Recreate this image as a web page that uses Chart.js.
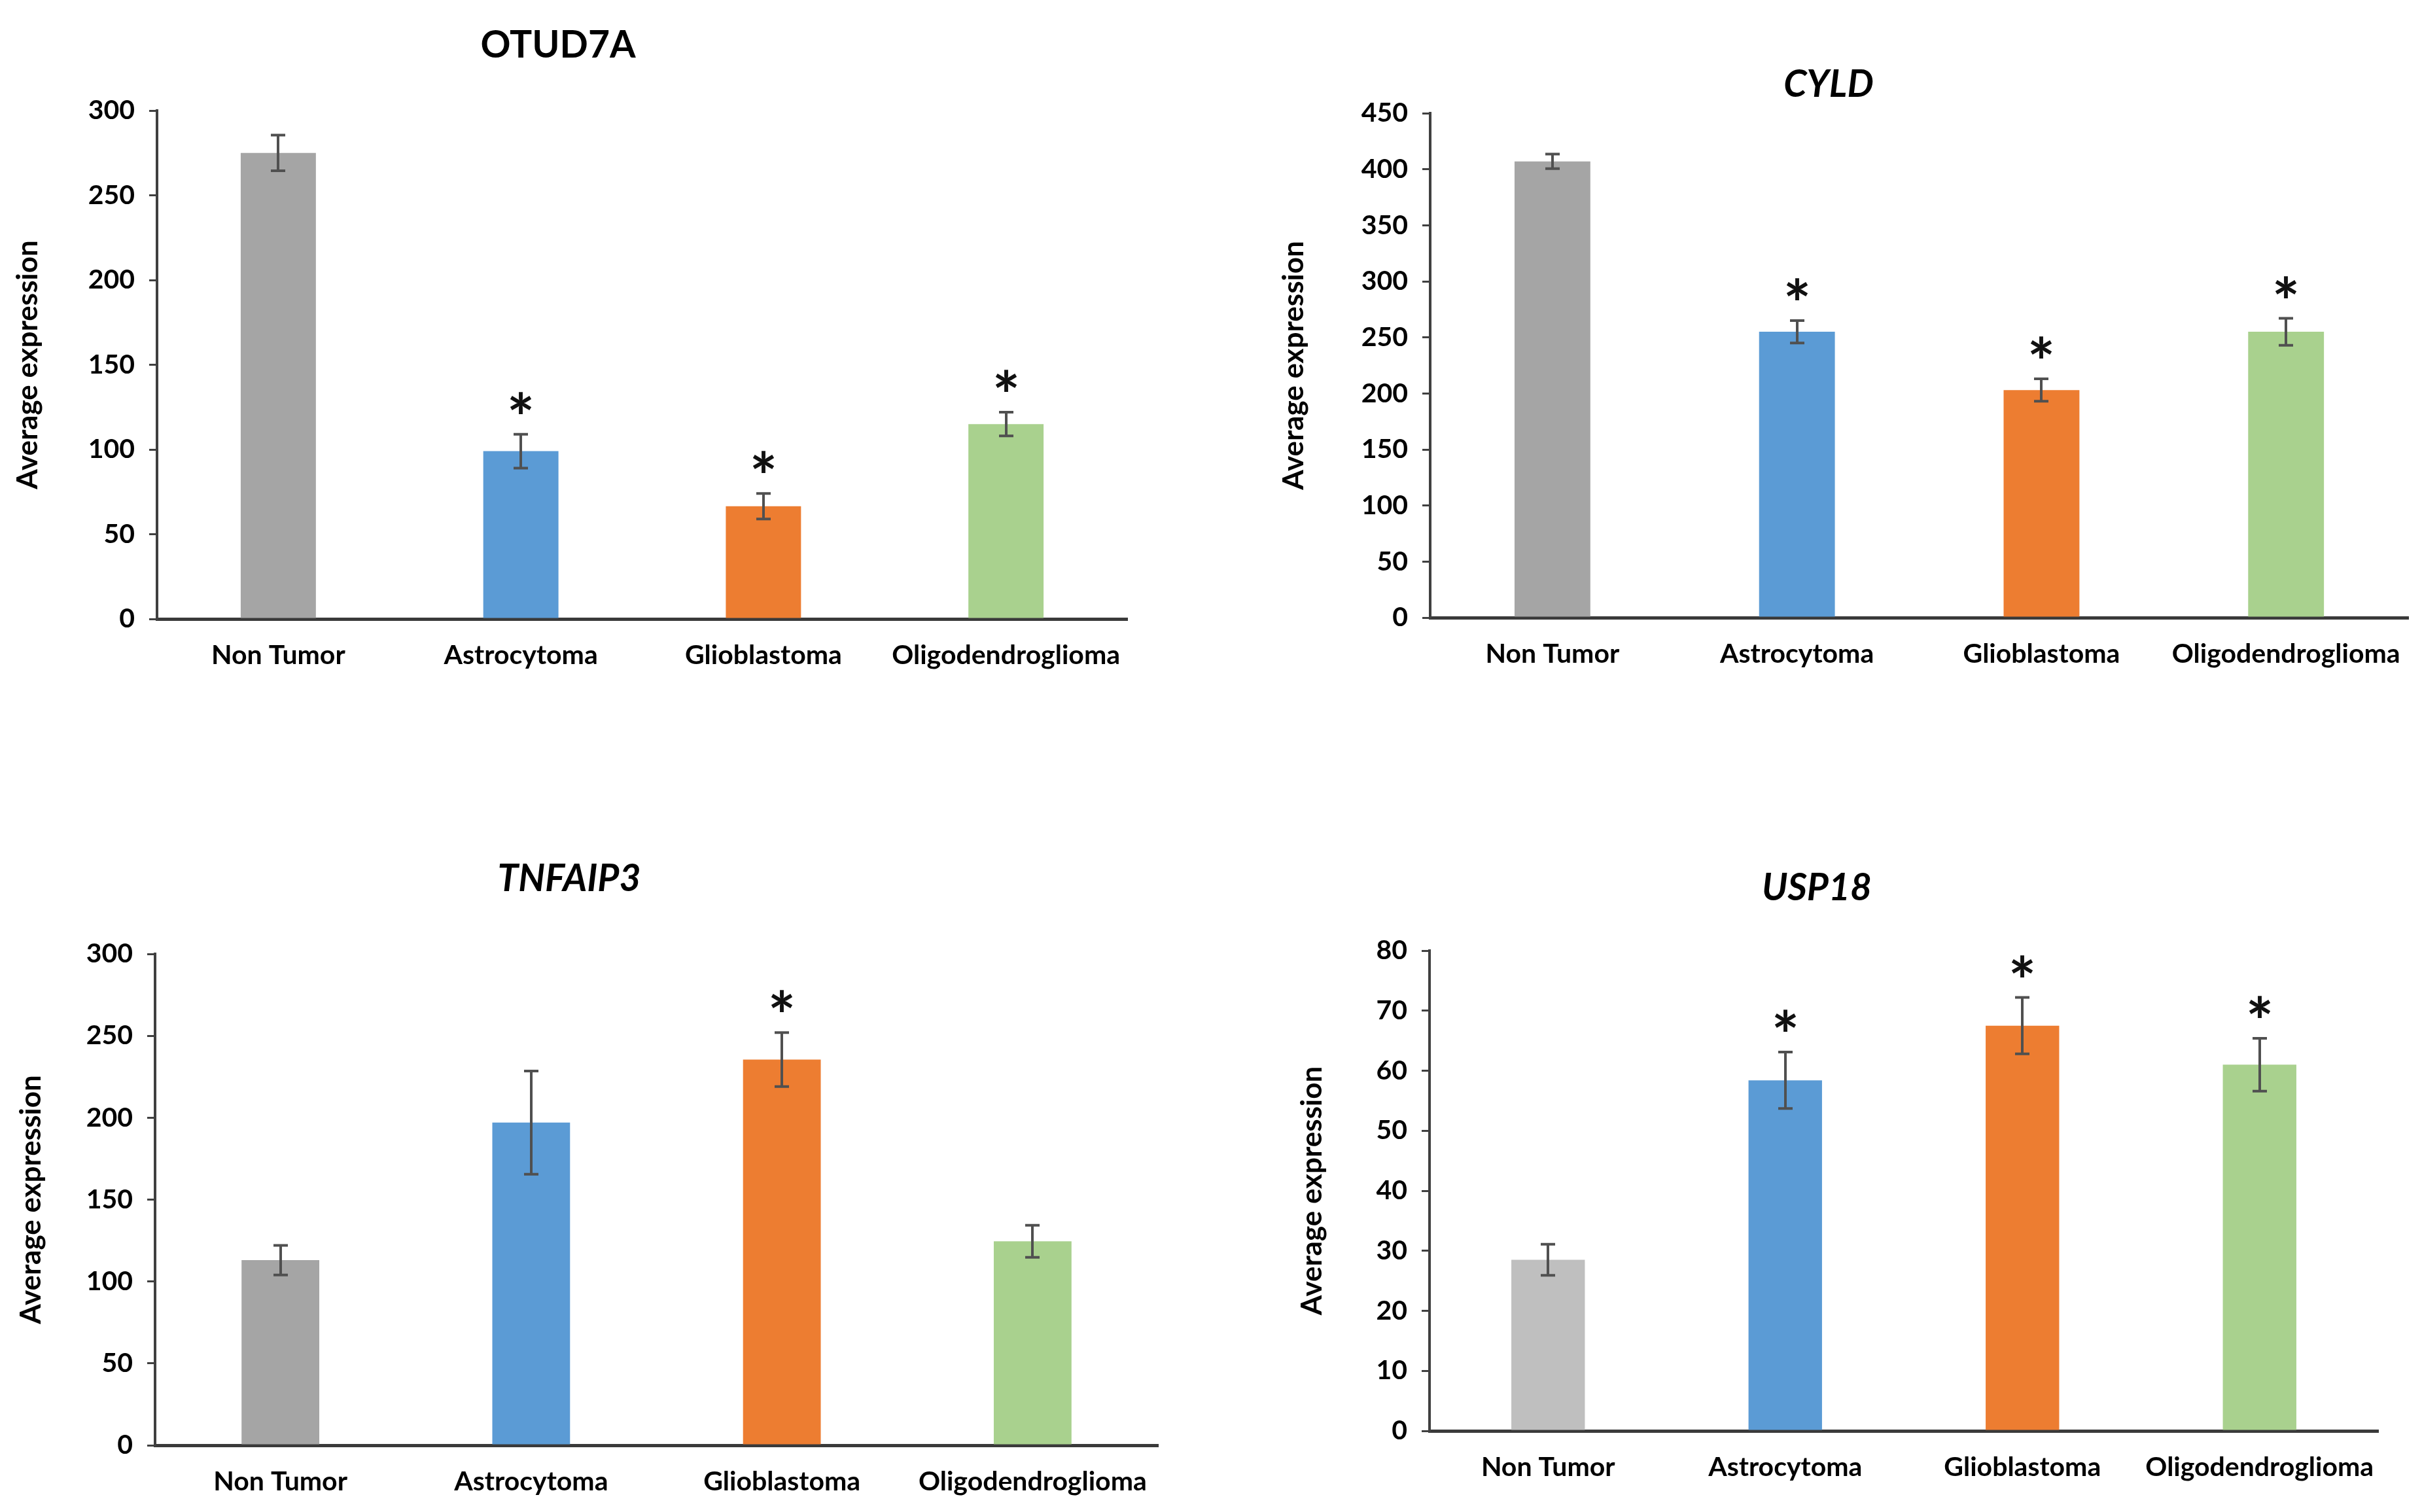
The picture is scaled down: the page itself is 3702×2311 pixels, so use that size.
<!DOCTYPE html>
<html>
<head>
<meta charset="utf-8">
<script src="https://cdn.jsdelivr.net/npm/chart.js@4.4.1/dist/chart.umd.min.js"></script>
<style>
  html, body { margin: 0; padding: 0; background: #fff; }
  body { width: 3702px; height: 2311px; position: relative; overflow: hidden; }
  canvas { position: absolute; }
</style>
</head>
<body>
<canvas id="c1"></canvas>
<canvas id="c2"></canvas>
<canvas id="c3"></canvas>
<canvas id="c4"></canvas>
<script>
// categories shared by all four panels
const categories = ['Non Tumor', 'Astrocytoma', 'Glioblastoma', 'Oligodendroglioma']

// OTUD7A
const otud7aMeans = [275, 99, 66.5, 115]
const otud7aErrors = [10.5, 10, 7.5, 7]
const otud7aSig = [false, true, true, true]
const otud7aTicks = [0, 50, 100, 150, 200, 250, 300]

// CYLD
const cyldMeans = [407, 255, 203, 255]
const cyldErrors = [6.5, 10, 10, 12]
const cyldSig = [false, true, true, true]
const cyldTicks = [0, 50, 100, 150, 200, 250, 300, 350, 400, 450]

// TNFAIP3
const tnfaip3Means = [113, 197, 235.5, 124.5]
const tnfaip3Errors = [9, 31.5, 16.5, 9.8]
const tnfaip3Sig = [false, false, true, false]
const tnfaip3Ticks = [0, 50, 100, 150, 200, 250, 300]

// USP18
const usp18Means = [28.5, 58.4, 67.5, 61]
const usp18Errors = [2.6, 4.7, 4.7, 4.4]
const usp18Sig = [false, true, true, true]
const usp18Ticks = [0, 10, 20, 30, 40, 50, 60, 70, 80]

const barColors = ['#a5a5a5', '#5b9bd5', '#ed7d31', '#a9d18e']
const usp18Colors = ['#bfbfbf', '#5b9bd5', '#ed7d31', '#a9d18e']

const FONT = 'Lato, "Open Sans", sans-serif'

// error bars, asterisks and the panel title
const errorBars = {
  id: 'errorBars',
  afterDatasetsDraw(chart, args, opts) {
    const ctx = chart.ctx
    const y = chart.scales.y
    const means = chart.data.datasets[0].data
    ctx.save()
    // size the asterisk so its glyph is about 34px tall
    ctx.font = 'bold 100px ' + FONT
    const probe = ctx.measureText('*')
    const starSize = 100 * 34 / (probe.actualBoundingBoxAscent + probe.actualBoundingBoxDescent)
    ctx.strokeStyle = '#505050'
    ctx.lineWidth = 4
    chart.getDatasetMeta(0).data.forEach((bar, i) => {
      const top = y.getPixelForValue(means[i] + opts.errors[i])
      const bot = y.getPixelForValue(means[i] - opts.errors[i])
      const x = Math.round(bar.x)
      ctx.beginPath()
      ctx.moveTo(x, top); ctx.lineTo(x, bot)
      ctx.moveTo(x - 11, top); ctx.lineTo(x + 11, top)
      ctx.moveTo(x - 11, bot); ctx.lineTo(x + 11, bot)
      ctx.stroke()
      if (opts.sig[i]) {
        ctx.fillStyle = '#111'
        ctx.font = 'bold ' + starSize.toFixed(1) + 'px ' + FONT
        ctx.textAlign = 'center'
        ctx.textBaseline = 'alphabetic'
        const m = ctx.measureText('*')
        const cy = top - 48
        ctx.fillText('*', x, cy + (m.actualBoundingBoxAscent - m.actualBoundingBoxDescent) / 2)
      }
    })
    ctx.fillStyle = '#000'
    ctx.font = (opts.italic ? 'italic ' : '') + 'bold 57px ' + FONT
    ctx.textAlign = 'center'
    ctx.textBaseline = 'middle'
    ctx.fillText(opts.title, opts.titleX, opts.titleY)
    ctx.restore()
  }
}

const panels = [
  { id: 'c1', left: 0, top: 0, w: 1851, h: 1150, area: [240, 169, 1723, 946], yTitleLeft: 16,
    title: 'OTUD7A', italic: false, titleX: 853, titleY: 70,
    means: otud7aMeans, errors: otud7aErrors, sig: otud7aSig, ticks: otud7aTicks, colors: barColors },
  { id: 'c2', left: 1851, top: 0, w: 1851, h: 1150, area: [335, 173, 1832, 944], yTitleLeft: 100,
    title: 'CYLD', italic: true, titleX: 944, titleY: 130,
    means: cyldMeans, errors: cyldErrors, sig: cyldSig, ticks: cyldTicks, colors: barColors },
  { id: 'c3', left: 0, top: 1150, w: 1851, h: 1161, area: [237, 308, 1770, 1059], yTitleLeft: 21,
    title: 'TNFAIP3', italic: true, titleX: 870, titleY: 194,
    means: tnfaip3Means, errors: tnfaip3Errors, sig: tnfaip3Sig, ticks: tnfaip3Ticks, colors: barColors },
  { id: 'c4', left: 1851, top: 1150, w: 1851, h: 1161, area: [334, 303, 1784, 1037], yTitleLeft: 128,
    title: 'USP18', italic: true, titleX: 926, titleY: 208,
    means: usp18Means, errors: usp18Errors, sig: usp18Sig, ticks: usp18Ticks, colors: usp18Colors }
]

panels.forEach(p => {
  const canvas = document.getElementById(p.id)
  canvas.width = p.w
  canvas.height = p.h
  canvas.style.left = p.left + 'px'
  canvas.style.top = p.top + 'px'
  canvas.style.width = p.w + 'px'
  canvas.style.height = p.h + 'px'
  const [L, T, R, B] = p.area
  const yMax = p.ticks[p.ticks.length - 1]
  const step = p.ticks[1] - p.ticks[0]

  new Chart(canvas.getContext('2d'), {
    type: 'bar',
    data: {
      labels: categories,
      datasets: [{
        data: p.means,
        backgroundColor: p.colors,
        borderWidth: 0,
        categoryPercentage: 1,
        barPercentage: 0.31
      }]
    },
    options: {
      responsive: false,
      animation: false,
      devicePixelRatio: 1,
      layout: { padding: { left: p.yTitleLeft, top: T, right: p.w - R, bottom: 0 } },
      plugins: {
        legend: { display: false },
        tooltip: { enabled: false },
        errorBars: {
          errors: p.errors, sig: p.sig, title: p.title, italic: p.italic,
          titleX: p.titleX, titleY: p.titleY
        }
      },
      scales: {
        x: {
          offset: true,
          grid: { display: false, drawTicks: false },
          border: { display: true, color: '#3a3a3a', width: 5 },
          ticks: { color: '#000', padding: 31, font: { family: FONT, size: 41, weight: 'bold' }, maxRotation: 0, autoSkip: false },
          afterFit: s => { s.height = p.h - B }
        },
        y: {
          min: 0,
          max: yMax,
          grid: { display: true, drawOnChartArea: false, drawTicks: true, tickLength: 12, color: '#404040', lineWidth: 3 },
          border: { display: true, color: '#404040', width: 4 },
          ticks: { stepSize: step, color: '#000', padding: 22, font: { family: FONT, size: 41, weight: 'bold' } },
          title: {
            display: true, text: 'Average expression', color: '#000',
            font: { family: FONT, size: 44, weight: 'bold' }, padding: 0
          },
          afterFit: s => { s.width = L - p.yTitleLeft }
        }
      }
    },
    plugins: [errorBars]
  })
})
</script>
</body>
</html>
